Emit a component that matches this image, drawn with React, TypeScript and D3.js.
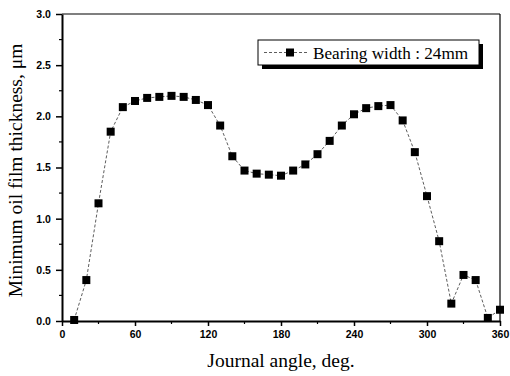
import React, { useEffect, useRef } from 'react';
import * as d3 from 'd3';

const angles = [10, 20, 30, 40, 50, 60, 70, 80, 90, 100, 110, 120, 130, 140, 150, 160, 170, 180,
  190, 200, 210, 220, 230, 240, 250, 260, 270, 280, 290, 300, 310, 320, 330, 340, 350, 360];
const thickness = [0.01, 0.40, 1.15, 1.85, 2.09, 2.15, 2.18, 2.19, 2.20, 2.19, 2.16, 2.11, 1.91, 1.61,
  1.47, 1.44, 1.43, 1.42, 1.47, 1.53, 1.63, 1.76, 1.91, 2.02, 2.08, 2.10, 2.11, 1.96, 1.65, 1.22,
  0.78, 0.17, 0.45, 0.40, 0.03, 0.11];
const xTicks = [0, 60, 120, 180, 240, 300, 360];
const yTicks = [0, 0.5, 1.0, 1.5, 2.0, 2.5, 3.0];
const legendLabel = 'Bearing width : 24mm';

const App = () => {
  const svgRef = useRef<SVGSVGElement>(null);

  useEffect(() => {
    const svg = d3.select(svgRef.current);
    svg.selectAll('*').remove();

    const left = 62, right = 500, top = 14, bottom = 321;
    const x = d3.scaleLinear().domain([0, 360]).range([left, right]);
    const y = d3.scaleLinear().domain([0, 3]).range([bottom, top]);
    const serif = 'Liberation Serif, Times New Roman, serif';
    const sans = 'Liberation Sans, Arial, sans-serif';

    svg.append('rect').attr('width', 510).attr('height', 376).attr('fill', 'white');

    // frame
    svg.append('line').attr('x1', left).attr('x2', right).attr('y1', top).attr('y2', top)
      .attr('stroke', 'black').attr('stroke-width', 1.2);
    svg.append('line').attr('x1', right).attr('x2', right).attr('y1', top).attr('y2', bottom)
      .attr('stroke', 'black').attr('stroke-width', 1.2);

    const xAxis = d3.axisBottom(x).tickValues(xTicks).tickSize(5).tickSizeOuter(0).tickFormat(d3.format('d'));
    const gx = svg.append('g').attr('transform', `translate(0,${bottom})`).call(xAxis);
    gx.select('.domain').attr('stroke-width', 2);
    gx.selectAll('.tick line').attr('stroke-width', 1.5);
    gx.selectAll('text').attr('font-family', sans)
      .attr('font-weight', 'bold').attr('font-size', 10.5).attr('dy', '0.9em');
    const xMinor = d3.range(30, 360, 60);
    svg.append('g').selectAll('line').data(xMinor).join('line')
      .attr('x1', d => x(d)).attr('x2', d => x(d)).attr('y1', bottom).attr('y2', bottom + 3)
      .attr('stroke', 'black').attr('stroke-width', 1.2);

    const yAxis = d3.axisLeft(y).tickValues(yTicks).tickSize(6).tickSizeOuter(0).tickFormat(d3.format('.1f'));
    const gy = svg.append('g').attr('transform', `translate(${left},0)`).call(yAxis);
    gy.select('.domain').attr('stroke-width', 2);
    gy.selectAll('.tick line').attr('stroke-width', 1.5);
    gy.selectAll('text').attr('font-family', sans)
      .attr('font-weight', 'bold').attr('font-size', 10.5).attr('dx', '-0.2em');
    const yMinor = d3.range(0.25, 3, 0.5);
    svg.append('g').selectAll('line').data(yMinor).join('line')
      .attr('x1', left - 3).attr('x2', left).attr('y1', d => y(d)).attr('y2', d => y(d))
      .attr('stroke', 'black').attr('stroke-width', 1.2);

    const pts = angles.map((a, i) => [a, thickness[i]] as [number, number]);
    const line = d3.line<[number, number]>().x(d => x(d[0])).y(d => y(d[1]));
    svg.append('path').datum(pts).attr('d', line).attr('fill', 'none')
      .attr('stroke', '#333').attr('stroke-width', 0.8).attr('stroke-dasharray', '3,2');

    const s = 8;
    svg.append('g').selectAll('rect').data(pts).join('rect')
      .attr('x', d => x(d[0]) - s / 2).attr('y', d => y(d[1]) - s / 2)
      .attr('width', s).attr('height', s).attr('fill', 'black');

    // legend
    const lx = 258, ly = 40, lw = 221, lh = 25;
    svg.append('rect').attr('x', lx + 4).attr('y', ly + 4).attr('width', lw).attr('height', lh).attr('fill', 'black');
    svg.append('rect').attr('x', lx).attr('y', ly).attr('width', lw).attr('height', lh)
      .attr('fill', 'white').attr('stroke', 'black').attr('stroke-width', 1);
    svg.append('line').attr('x1', lx + 6).attr('x2', lx + 50).attr('y1', ly + lh / 2).attr('y2', ly + lh / 2)
      .attr('stroke', '#333').attr('stroke-width', 0.8).attr('stroke-dasharray', '3,2');
    svg.append('rect').attr('x', lx + 32 - s / 2).attr('y', ly + lh / 2 - s / 2).attr('width', s).attr('height', s).attr('fill', 'black');
    svg.append('text').attr('x', lx + 55).attr('y', ly + lh / 2 + 6)
      .attr('font-family', serif).attr('font-size', 17.2)
      .text(legendLabel);

    svg.append('text').attr('x', 281).attr('y', 367).attr('text-anchor', 'middle')
      .attr('font-family', serif).attr('font-size', 19.5)
      .text('Journal angle, deg.');
    svg.append('text').attr('transform', `translate(22,${(top + bottom) / 2 + 3}) rotate(-90)`)
      .attr('text-anchor', 'middle')
      .attr('font-family', serif).attr('font-size', 19.5)
      .text('Minimum oil film thickness, \u03bcm');
  }, []);

  return <svg ref={svgRef} width={510} height={376} style={{ position: 'absolute', left: 0, top: 0 }} />;
};

export default App;
